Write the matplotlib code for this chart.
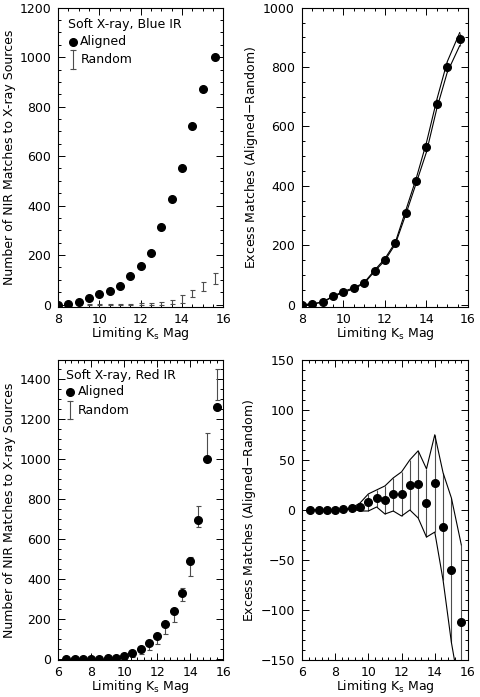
import numpy as np
import matplotlib
matplotlib.use("Agg")
import matplotlib.pyplot as plt
from matplotlib.ticker import MultipleLocator

plt.rcParams['font.family'] = ['DejaVu Sans']
plt.rcParams['font.size'] = 9

# top row: soft X-ray, blue IR
mag_blue = [8, 8.5, 9, 9.5, 10, 10.5, 11, 11.5, 12, 12.5, 13, 13.5, 14, 14.5, 15, 15.6]
aligned_blue = [0, 2, 9, 28, 44, 56, 74, 116, 155, 210, 315, 425, 552, 720, 872, 1000]
random_blue = [0, 0, 0, 0.5, 1, 1, 1, 2, 3, 3, 5, 9, 22, 44, 72, 106]
random_blue_err = [0, 0, 0.5, 1, 2, 1.5, 1.5, 2, 3, 3, 7, 8, 16, 15, 18, 22]

# bottom row: soft X-ray, red IR
mag_red = [6.5, 7, 7.5, 8, 8.5, 9, 9.5, 10, 10.5, 11, 11.5, 12, 12.5, 13, 13.5, 14, 14.5, 15, 15.6]
aligned_red = [0, 0, 0, 0, 1, 2, 4, 15, 29, 50, 79, 115, 176, 242, 330, 488, 697, 1000, 1262]
random_red = [0, 0, 0, 0, 0.5, 0.5, 1, 7.5, 17.5, 40, 63.5, 99, 151, 216.5, 323, 461.5, 713.5, 1060, 1374]
random_red_err = [0, 0, 0, 0, 0.5, 0.5, 4, 8.5, 8.5, 14, 16.5, 22, 25, 33.5, 34, 48.5, 53.5, 72, 77]

xlabel = "Limiting K$_\\mathregular{s}$ Mag"


def style_axes(ax, xmin, xmax, ymin, ymax, ymajor, yminor, xminor):
    ax.set_xlim(xmin, xmax)
    ax.set_ylim(ymin, ymax)
    ax.xaxis.set_major_locator(MultipleLocator(2))
    ax.xaxis.set_minor_locator(MultipleLocator(xminor))
    ax.yaxis.set_major_locator(MultipleLocator(ymajor))
    ax.yaxis.set_minor_locator(MultipleLocator(yminor))
    ax.tick_params(which='both', direction='in', top=True, right=True, width=0.7)
    ax.tick_params(which='major', length=5)
    ax.tick_params(axis='y', which='major', pad=5)
    ax.tick_params(axis='x', which='major', pad=4)
    ax.tick_params(which='minor', length=2.5)
    for s in ax.spines.values():
        s.set_linewidth(0.8)
    ax.set_xlabel(xlabel, labelpad=-0.5)


def legend_block(ax, title, x0, ytitle, ydot, yrand):
    ax.text(x0, ytitle, title, transform=ax.transAxes, va='center', ha='left', fontsize=9)
    ax.plot([x0 + 0.03], [ydot], 'o', color='k', ms=5.5, transform=ax.transAxes)
    ax.text(x0 + 0.075, ydot, "Aligned", transform=ax.transAxes, va='center', ha='left', fontsize=9)
    ax.plot([x0 + 0.03] * 2, [yrand - 0.031, yrand + 0.031], color='0.3', lw=0.8, transform=ax.transAxes)
    ax.plot([x0 + 0.03] * 2, [yrand - 0.031, yrand + 0.031], ls='none', marker='_', ms=4,
            mew=0.8, color='0.3', transform=ax.transAxes)
    ax.text(x0 + 0.075, yrand, "Random", transform=ax.transAxes, va='center', ha='left', fontsize=9)


def count_panel(ax, mag, aligned, rnd, rnd_err):
    ax.errorbar(mag, rnd, yerr=rnd_err, fmt='none', ecolor='0.3', elinewidth=0.8, capsize=1.8, capthick=0.8)
    ax.plot(mag, aligned, 'o', color='k', ms=5.5)


def excess_panel(ax, mag, aligned, rnd, rnd_err):
    mag = np.array(mag)
    excess = np.array(aligned) - np.array(rnd)
    err = np.array(rnd_err)
    ax.vlines(mag, excess - err, excess + err, color='0.3', lw=0.8)
    ax.plot(mag, excess + err, color='k', lw=0.8)
    ax.plot(mag, excess - err, color='k', lw=0.8)
    ax.plot(mag, excess, 'o', color='k', ms=5.5)


fig = plt.figure(figsize=(4.8, 6.97), dpi=100)
ax1 = fig.add_axes([0.121, 0.5595, 0.344, 0.4295])
ax2 = fig.add_axes([0.629, 0.5595, 0.346, 0.4295])
ax3 = fig.add_axes([0.121, 0.0524, 0.344, 0.4318])
ax4 = fig.add_axes([0.629, 0.0524, 0.346, 0.4318])

count_panel(ax1, mag_blue, aligned_blue, random_blue, random_blue_err)
style_axes(ax1, 8, 16, -10, 1200, 200, 50, 0.5)
ax1.set_ylabel("Number of NIR Matches to X-ray Sources", labelpad=2)
legend_block(ax1, "Soft X-ray, Blue IR", 0.06, 0.944, 0.886, 0.826)

excess_panel(ax2, mag_blue, aligned_blue, random_blue, random_blue_err)
style_axes(ax2, 8, 16, -8, 1000, 200, 50, 0.5)
ax2.set_ylabel("Excess Matches (Aligned$-$Random)", labelpad=2)

count_panel(ax3, mag_red, aligned_red, random_red, random_red_err)
style_axes(ax3, 6, 16, -8, 1500, 200, 50, 0.4)
ax3.set_ylabel("Number of NIR Matches to X-ray Sources", labelpad=2)
legend_block(ax3, "Soft X-ray, Red IR", 0.045, 0.948, 0.893, 0.832)

excess_panel(ax4, mag_red, aligned_red, random_red, random_red_err)
style_axes(ax4, 6, 16, -150, 150, 50, 10, 0.4)
ax4.set_ylabel("Excess Matches (Aligned$-$Random)", labelpad=2)

fig.savefig("out.png", dpi=100)
